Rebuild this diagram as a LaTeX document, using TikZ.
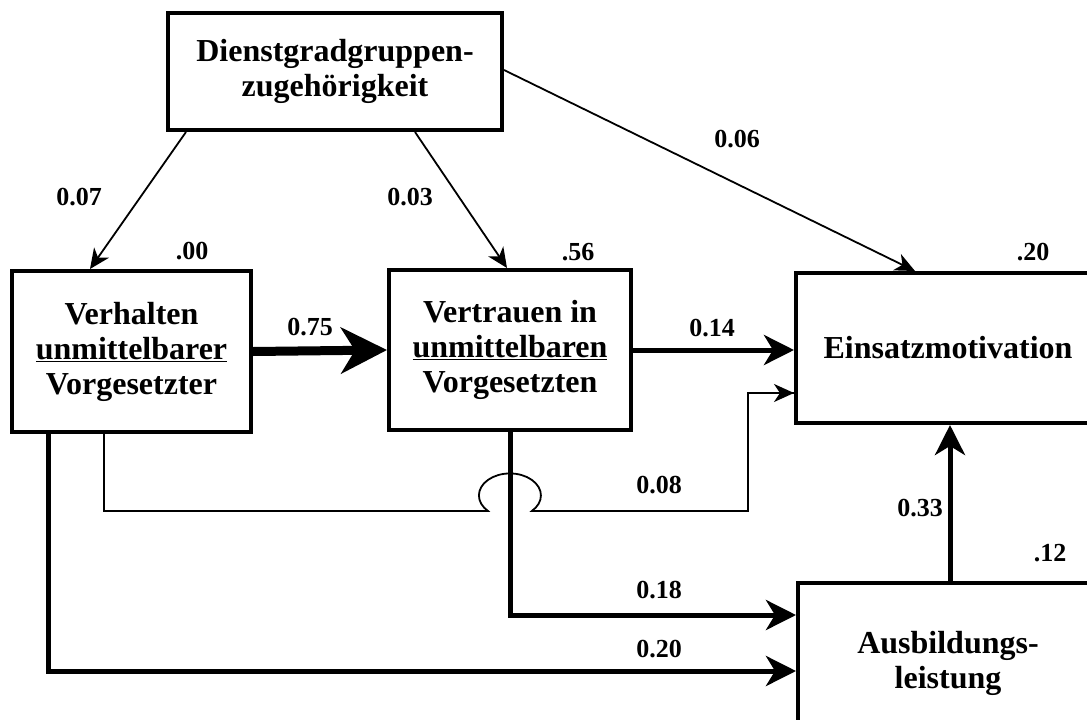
\documentclass[tikz,border=0pt]{standalone}
\usepackage{fontspec}
\setmainfont{Liberation Serif}
\usetikzlibrary{arrows.meta,calc}
\begin{document}
\begin{tikzpicture}[x=1pt,y=1pt,
  box/.style={draw,line width=4pt,rectangle,align=center,inner sep=0pt,
    font=\fontsize{32}{35}\selectfont\bfseries},
  lab/.style={font=\fontsize{26}{30}\selectfont\bfseries,inner sep=0pt},
  thinarr/.style={line width=1.8pt,-{Stealth[length=20pt,width=18pt,inset=6pt]}},
  thinline/.style={line width=1.8pt},
  medarr/.style={line width=5pt,-{Stealth[length=30pt,width=30pt,inset=9pt]}},
  bigarr/.style={line width=9pt,-{Stealth[length=46pt,width=46pt,inset=14pt]}}]
\useasboundingbox (0,0) rectangle (1087,-720);
\node[box,minimum width=334pt,minimum height=117pt] (top) at (335,-71.5)
  {Dienstgradgruppen-\\zugehörigkeit};
\node[box,minimum width=239pt,minimum height=161pt] (verh) at (131.5,-351.5)
  {Verhalten\\\underline{unmittelbarer}\\Vorgesetzter};
\node[box,minimum width=242pt,minimum height=160pt] (vert) at (510,-350)
  {Vertrauen in\\\underline{unmittelbaren}\\Vorgesetzten};
\node[box,minimum width=304pt,minimum height=150pt] (eins) at (948,-348)
  {Einsatzmotivation};
\node[box,minimum width=300pt,minimum height=160pt] (ausb) at (948,-663)
  {Ausbildungs-\\leistung};
% arrows from top box
\draw[thinarr] ($(top.south west)+(20,0)$) -- ($(verh.north west)+(80,0)$);
\draw[thinarr] ($(top.south west)+(249,0)$) -- ($(vert.north west)+(120,0)$);
\draw[thinarr] ($(top.east)+(0,1.5)$) -- ($(eins.north west)+(121,0)$);
% main paths
\draw[bigarr] (verh.east) -- (vert.west);
\draw[medarr] (vert.east) -- (vert.east -| eins.west);
\coordinate (e2) at ($(eins.west)+(0,-45)$);
\draw[thinline] ($(verh.south west)+(94,0)$) |- (488,-511)
  arc[start angle=225,end angle=-45,x radius=31,y radius=22]
  -- (748,-511) |- (e2);
\draw[thinarr] (748,-393) -- (e2);
\coordinate (a1) at ($(ausb.north west)+(0,-34)$);
\coordinate (a2) at ($(ausb.north west)+(0,-90)$);
\draw[line width=5pt] (vert.south) |- ($(a1)+(-30,0)$);
\draw[medarr] ($(a1)+(-32,0)$) -- (a1);
\draw[line width=5pt] ($(verh.south west)+(38,0)$) |- ($(a2)+(-30,0)$);
\draw[medarr] ($(a2)+(-32,0)$) -- (a2);
\coordinate (u1) at ($(ausb.north west)+(154,0)$);
\coordinate (u2) at (u1 |- eins.south);
\draw[medarr] (u1) -- (u2);
% labels
\node[lab] (l1) at (79,-197) {0.07};
\node[lab] (l2) at (192,-251) {.00};
\node[lab] (l3) at (410,-197) {0.03};
\node[lab] (l4) at (578,-252) {.56};
\node[lab] (l5) at (737,-139) {0.06};
\node[lab] (l6) at (1033,-252) {.20};
\node[lab] (l7) at (310,-327) {0.75};
\node[lab] (l8) at (712,-328) {0.14};
\node[lab] (l9) at (659,-485) {0.08};
\node[lab] (l10) at (920,-508) {0.33};
\node[lab] (l11) at (1050,-553) {.12};
\node[lab] (l12) at (659,-590) {0.18};
\node[lab] (l13) at (659,-649) {0.20};
\end{tikzpicture}
\end{document}
